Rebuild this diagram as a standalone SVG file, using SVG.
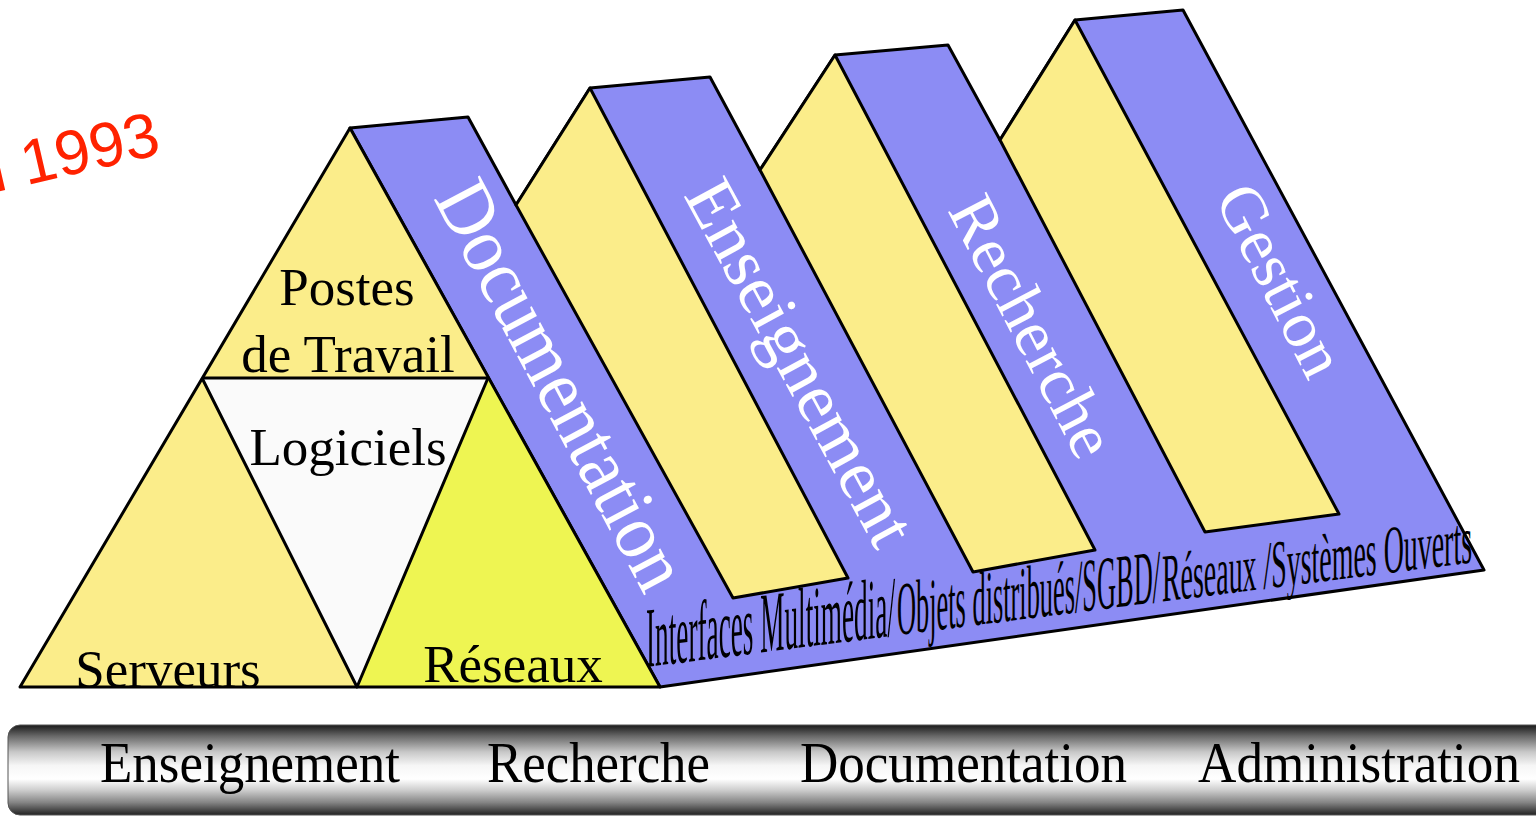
<svg xmlns="http://www.w3.org/2000/svg" width="1536" height="817" viewBox="0 0 1536 817">
<defs>
<linearGradient id="bar" x1="0" y1="0" x2="0" y2="1">
<stop offset="0" stop-color="#1a1a1a"/>
<stop offset="0.12" stop-color="#666"/>
<stop offset="0.3" stop-color="#c8c8c8"/>
<stop offset="0.45" stop-color="#f6f6f6"/>
<stop offset="0.6" stop-color="#ffffff"/>
<stop offset="0.72" stop-color="#cfcfcf"/>
<stop offset="0.86" stop-color="#858585"/>
<stop offset="1" stop-color="#222"/>
</linearGradient>
<style>
.ol{stroke:#000;stroke-width:3;stroke-linejoin:round}
.yel{fill:#fbed8a}
.blu{fill:#8c8cf4}
.lbl{font-family:"Liberation Serif","Times New Roman",serif;fill:#000}
.band{font-family:"Liberation Serif","Times New Roman",serif;fill:#fff}
.bar{font-family:"Liberation Serif","Times New Roman",serif;fill:#000;font-size:56px}
.floor{font-family:"Liberation Serif","Times New Roman",serif;fill:#000}
</style>
</defs>
<rect width="1536" height="817" fill="#fff"/>

<g id="year">
<text transform="translate(-25,197) rotate(-13)" font-family="Liberation Sans, Arial, sans-serif" font-size="63" fill="#ff2200">n 1993</text>
</g>

<g id="bands">
<polygon class="blu ol" points="350,128 468,117 516,205 590,88 710,77 760,170 835,55 948,45 1000,140 1075,20 1183,10 1484,570 660,687"/>
<g id="face2"><polygon class="yel ol" points="590,88 516,205 733,598 848,578"/></g>
<g id="face3"><polygon class="yel ol" points="835,55 760,170 973,572 1095,550"/></g>
<g id="face4"><polygon class="yel ol" points="1075,20 1000,140 1205,532 1339,514"/></g>
<text id="t-doc" class="band" font-size="79" transform="translate(433,198) rotate(62)" textLength="451" lengthAdjust="spacingAndGlyphs">Documentation</text>
<text id="t-ens" class="band" font-size="70" transform="translate(683,195) rotate(61.5)" textLength="406" lengthAdjust="spacingAndGlyphs">Enseignement</text>
<text id="t-rech" class="band" font-size="66" transform="translate(947,210) rotate(62.5)" textLength="285" lengthAdjust="spacingAndGlyphs">Recherche</text>
<text id="t-gest" class="band" font-size="65" transform="translate(1214,198) rotate(62.8)" textLength="207" lengthAdjust="spacingAndGlyphs">Gestion</text>
</g>

<g id="floor-label">
<text class="floor" font-size="86" transform="translate(646,667) skewY(-7.2)" textLength="249" lengthAdjust="spacingAndGlyphs">Interfaces Multimédia/</text>
<text class="floor" font-size="76" transform="translate(897,635) skewY(-7.2)" textLength="263" lengthAdjust="spacingAndGlyphs">Objets distribués/SGBD/</text>
<text class="floor" font-size="68" transform="translate(1162,601.6) skewY(-7.2)" textLength="310" lengthAdjust="spacingAndGlyphs">Réseaux /Systèmes Ouverts</text>
</g>

<g id="pyramid">
<g id="postes">
<polygon class="yel" points="350,128 488,378 202,378"/>
<text class="lbl" font-size="53" x="347" y="305" text-anchor="middle">Postes</text>
<text class="lbl" font-size="53" x="348" y="372" text-anchor="middle">de Travail</text>
</g>
<g id="serveurs">
<polygon class="yel" points="202,378 357,687 20,687"/>
<text class="lbl" font-size="53" x="168" y="687" text-anchor="middle">Serveurs</text>
</g>
<g id="logiciels">
<polygon fill="#fafafa" points="202,378 488,378 357,687"/>
<text class="lbl" font-size="53" x="348" y="465" text-anchor="middle">Logiciels</text>
</g>
<g id="reseaux">
<polygon fill="#eef552" points="488,378 660,687 357,687"/>
<text class="lbl" font-size="53" x="513" y="682" text-anchor="middle">Réseaux</text>
</g>
<g fill="none" class="ol">
<polygon points="350,128 660,687 20,687"/>
<polyline points="202,378 488,378"/>
<polyline points="202,378 357,687 488,378"/>
</g>
</g>

<g id="bar-group">
<rect x="8" y="725" width="1560" height="90" rx="12" fill="url(#bar)" stroke="#555" stroke-width="1"/>
<text class="bar" x="100" y="782" textLength="300" lengthAdjust="spacingAndGlyphs">Enseignement</text>
<text class="bar" x="487" y="782" textLength="223" lengthAdjust="spacingAndGlyphs">Recherche</text>
<text class="bar" x="800" y="782" textLength="327" lengthAdjust="spacingAndGlyphs">Documentation</text>
<text class="bar" x="1198" y="782" textLength="322" lengthAdjust="spacingAndGlyphs">Administration</text>
</g>
</svg>
